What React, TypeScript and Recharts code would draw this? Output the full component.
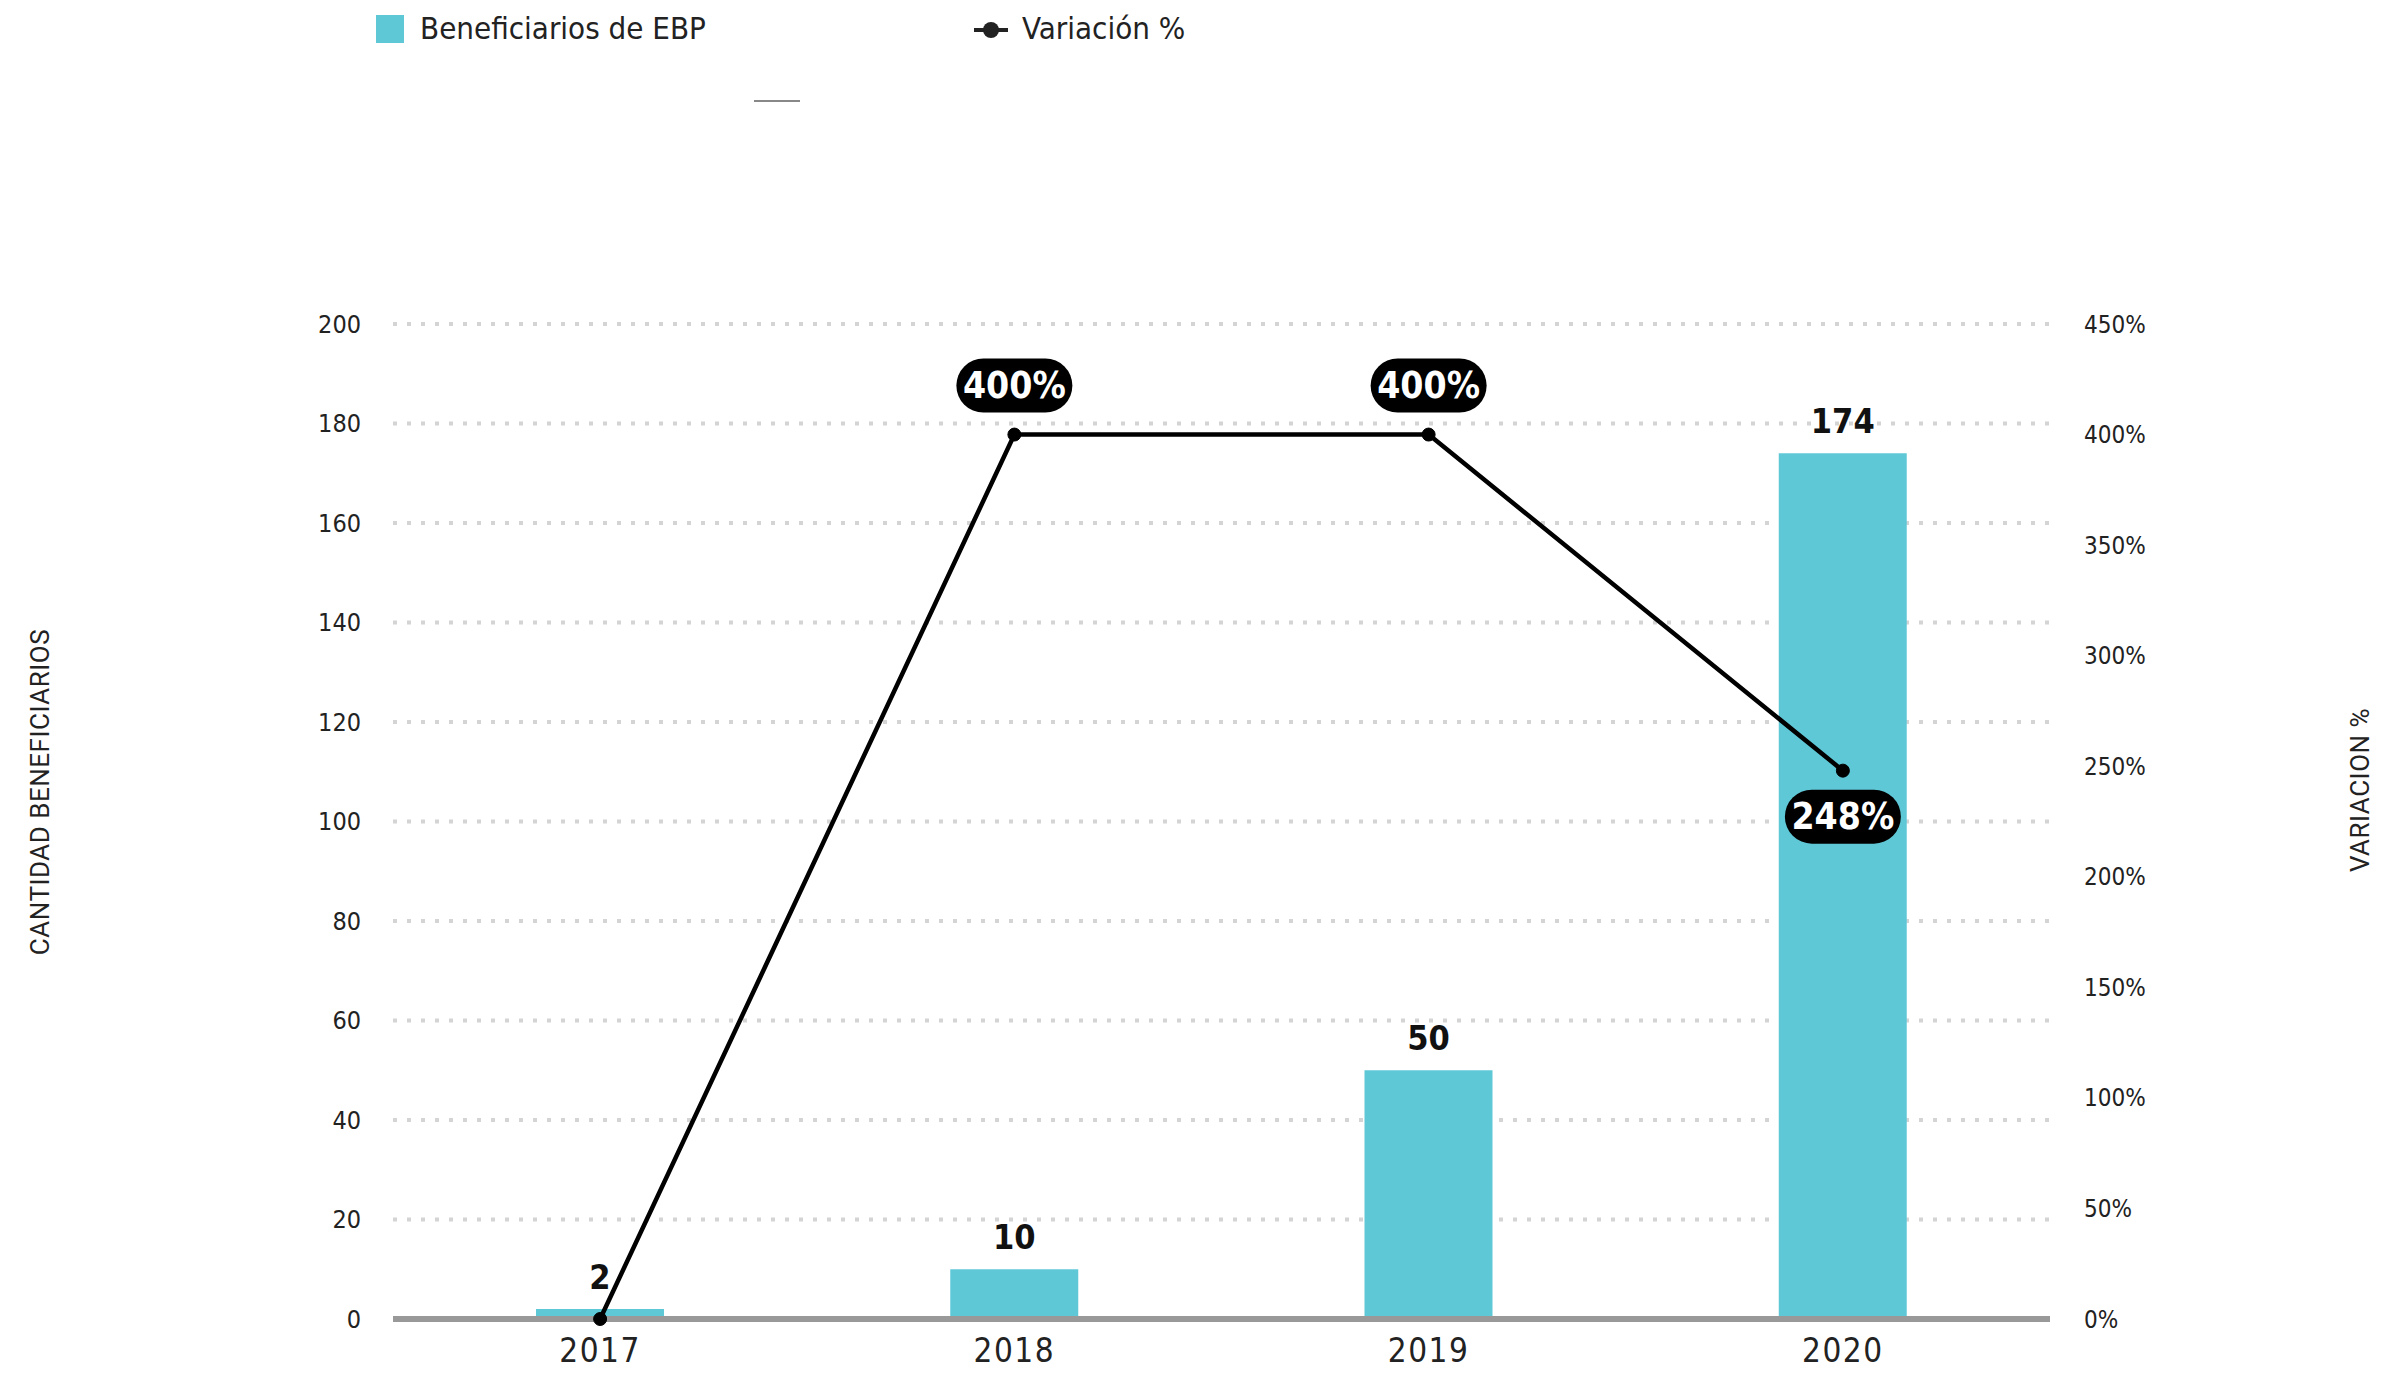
import React from 'react';
import { ComposedChart, Bar, Line, XAxis, YAxis, CartesianGrid, LabelList } from 'recharts';

// values
const years = ['2017', '2018', '2019', '2020'];
const beneficiarios = [2, 10, 50, 174];
const variacion = [0, 400, 400, 248];
const leftTicks = [0, 20, 40, 60, 80, 100, 120, 140, 160, 180, 200];
const rightTicks = [0, 50, 100, 150, 200, 250, 300, 350, 400, 450];

const chartData = years.map((year, i) => ({
  year,
  beneficiarios: beneficiarios[i],
  variacion: variacion[i],
}));

const NARROW = '"Liberation Sans Narrow", "DejaVu Sans Condensed", Roboto, sans-serif';
const PLAIN = 'Roboto, "Noto Sans", sans-serif';
const BAR_COLOR = '#5fc8d7';

const PillLabel = (props: any) => {
  const { x, y, value, index } = props;
  if (!value) return null;
  const below = index > 0 && variacion[index] < variacion[index - 1];
  const cy = below ? y + 46 : y - 49;
  const w = 116;
  const h = 54;
  return (
    <g>
      <rect x={x - w / 2} y={cy - h / 2} width={w} height={h} rx={27} ry={27} fill="#000" />
      <text
        x={x}
        y={cy}
        textAnchor="middle"
        dominantBaseline="central"
        fill="#fff"
        fontWeight="bold"
        fontSize={37}
        fontFamily={NARROW}
      >
        {value}%
      </text>
    </g>
  );
};

const axisTitle = (left: number, top: number): React.CSSProperties => ({
  position: 'absolute',
  left,
  top,
  transform: 'translate(-50%, -50%) rotate(-90deg)',
  whiteSpace: 'nowrap',
  fontFamily: PLAIN,
  fontSize: 26,
  color: '#222',
  letterSpacing: 0.5,
});

export default function App() {
  return (
    <div style={{ position: 'fixed', top: 0, left: 0, width: 2396, height: 1376, background: '#fff', overflow: 'hidden' }}>
      {/* legend */}
      <div style={{ position: 'absolute', left: 376, top: 15, width: 28, height: 28, background: BAR_COLOR }} />
      <div style={{ position: 'absolute', left: 420, top: 8, fontFamily: NARROW, fontSize: 31, color: '#222', lineHeight: '40px' }}>
        Beneficiarios de EBP
      </div>
      <svg style={{ position: 'absolute', left: 972, top: 14 }} width={40} height={30}>
        <line x1={2} y1={16} x2={36} y2={16} stroke="#222" strokeWidth={4} />
        <circle cx={19} cy={16} r={8} fill="#222" />
      </svg>
      <div style={{ position: 'absolute', left: 1022, top: 8, fontFamily: NARROW, fontSize: 31, color: '#222', lineHeight: '40px' }}>
        Variación %
      </div>
      <div style={{ position: 'absolute', left: 754, top: 100, width: 46, height: 2, background: '#888' }} />

      <div style={axisTitle(40, 792)}>CANTIDAD BENEFICIARIOS</div>
      <div style={axisTitle(2360, 790)}>VARIACION %</div>

      <div style={{ position: 'absolute', left: 0, top: 0 }}>
        <ComposedChart width={2396} height={1376} data={chartData} margin={{ top: 324, right: 0, bottom: 0, left: 0 }}>
          <CartesianGrid
            yAxisId="left"
            vertical={false}
            stroke="#d4d4d4"
            strokeWidth={4}
            strokeDasharray="4 10"
          />
          <XAxis
            dataKey="year"
            height={57}
            tickLine={false}
            tickSize={0}
            tickMargin={20}
            axisLine={{ stroke: '#999', strokeWidth: 6 }}
            tick={{ fill: '#222', fontSize: 33, fontFamily: NARROW, letterSpacing: 1.5 }}
          />
          <YAxis
            yAxisId="left"
            width={393}
            domain={[0, 200]}
            ticks={leftTicks}
            axisLine={false}
            tickLine={false}
            tickSize={0}
            tickMargin={32}
            tick={{ fill: '#222', fontSize: 25, fontFamily: NARROW }}
          />
          <YAxis
            yAxisId="right"
            orientation="right"
            width={346}
            domain={[0, 450]}
            ticks={rightTicks}
            axisLine={false}
            tickLine={false}
            tickSize={0}
            tickMargin={34}
            tickFormatter={(v: number) => `${v}%`}
            tick={{ fill: '#222', fontSize: 24, fontFamily: NARROW }}
          />
          <Bar yAxisId="left" dataKey="beneficiarios" fill={BAR_COLOR} barSize={128} isAnimationActive={false}>
            <LabelList
              dataKey="beneficiarios"
              position="top"
              offset={20}
              fill="#111"
              fontSize={34}
              fontWeight="bold"
              fontFamily={NARROW}
            />
          </Bar>
          <Line
            yAxisId="right"
            type="linear"
            dataKey="variacion"
            stroke="#000"
            strokeWidth={4.5}
            dot={{ r: 6.5, fill: '#000', stroke: '#000', strokeWidth: 1 }}
            activeDot={false}
            isAnimationActive={false}
          >
            <LabelList dataKey="variacion" content={PillLabel} />
          </Line>
        </ComposedChart>
      </div>
    </div>
  );
}
